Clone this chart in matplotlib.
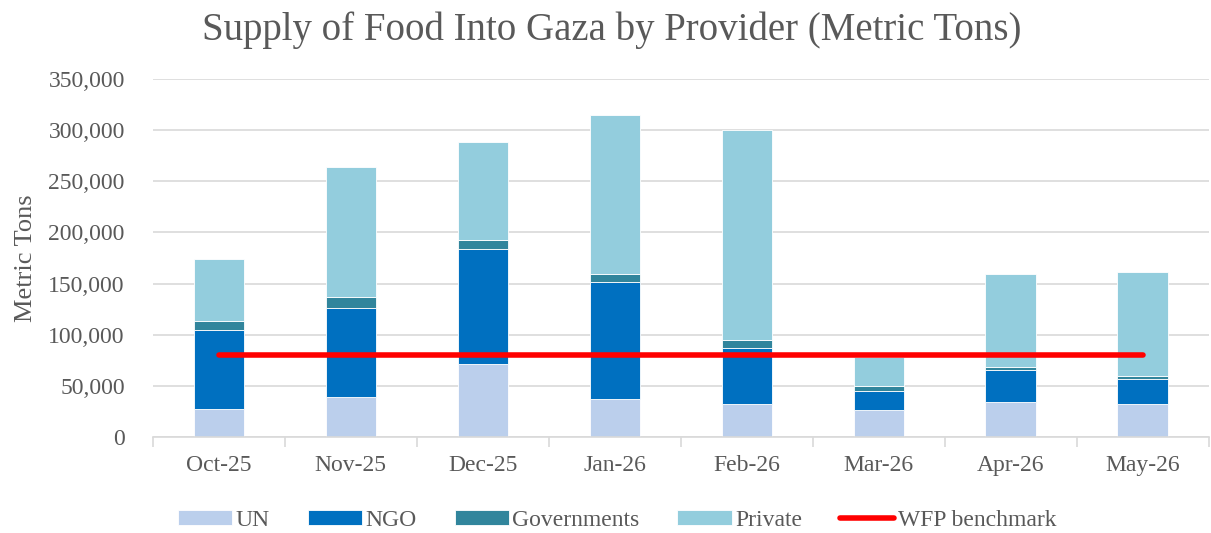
import numpy as np
import matplotlib.pyplot as plt
from matplotlib.ticker import FuncFormatter, FixedLocator

months = ["Oct-25", "Nov-25", "Dec-25", "Jan-26", "Feb-26", "Mar-26", "Apr-26", "May-26"]
un = [27000, 39000, 71000, 37000, 32000, 26000, 34000, 32000]
ngo = [78000, 87000, 112500, 114500, 55500, 19000, 32000, 25000]
governments = [8500, 10500, 9500, 7500, 7500, 5000, 2500, 2500]
private = [60500, 127000, 95500, 155500, 205000, 28000, 90500, 101500]
wfp_benchmark = [80000] * 8

colors = {"UN": "#BBCFEC", "NGO": "#0070C0", "Governments": "#31859C", "Private": "#93CDDD"}
grey = "#595959"

plt.rcParams["font.family"] = ["Liberation Serif", "DejaVu Serif"]

fig = plt.figure(figsize=(12.11, 5.33), dpi=100)
ax = fig.add_axes([0.126, 0.18, 0.872, 0.672])

x = np.arange(len(months))
bottom = np.zeros(len(months))
handles = []
for name, vals in [("UN", un), ("NGO", ngo), ("Governments", governments), ("Private", private)]:
    h = ax.bar(x, vals, width=0.38, bottom=bottom, color=colors[name], label=name,
               edgecolor="white", linewidth=0.6, zorder=2)
    handles.append(h)
    bottom += np.array(vals)

line, = ax.plot(x, wfp_benchmark, color="#FF0000", linewidth=4, solid_capstyle="round",
                label="WFP benchmark", zorder=3)
handles.append(line)

ax.set_xlim(-0.5, len(months) - 0.5)
ax.set_ylim(0, 350000)
ax.set_yticks(np.arange(0, 350001, 50000))
ax.yaxis.set_major_formatter(FuncFormatter(lambda v, p: f"{int(v):,}"))
ax.set_xticks(x)
ax.set_xticklabels(months)
ax.xaxis.set_minor_locator(FixedLocator(np.arange(-0.5, len(months), 1)))
ax.tick_params(axis="x", which="major", length=0, pad=13, labelsize=17, labelcolor=grey)
ax.tick_params(axis="x", which="minor", length=7, color="#d9d9d9", width=1.2)
ax.tick_params(axis="y", length=0, pad=20, labelsize=17, labelcolor=grey)

ax.grid(axis="y", color="#d9d9d9", linewidth=1.2, zorder=0)
ax.set_axisbelow(True)
for s in ["top", "right", "left"]:
    ax.spines[s].set_visible(False)
ax.spines["bottom"].set_color("#d9d9d9")
ax.spines["bottom"].set_linewidth(1.2)

ax.set_ylabel("Metric Tons", fontsize=19, color=grey, labelpad=8)
fig.suptitle("Supply of Food Into Gaza by Provider (Metric Tons)", x=0.505, y=0.978,
             fontsize=28, color=grey)

leg = ax.legend(handles=handles, labels=["UN", "NGO", "Governments", "Private", "WFP benchmark"],
                loc="upper center", bbox_to_anchor=(0.44, -0.145), ncol=5, frameon=False,
                fontsize=17, handlelength=2.3, handleheight=0.6, columnspacing=1.6,
                handletextpad=0.15)
for t in leg.get_texts():
    t.set_color(grey)

fig.savefig("out.png", dpi=100)
